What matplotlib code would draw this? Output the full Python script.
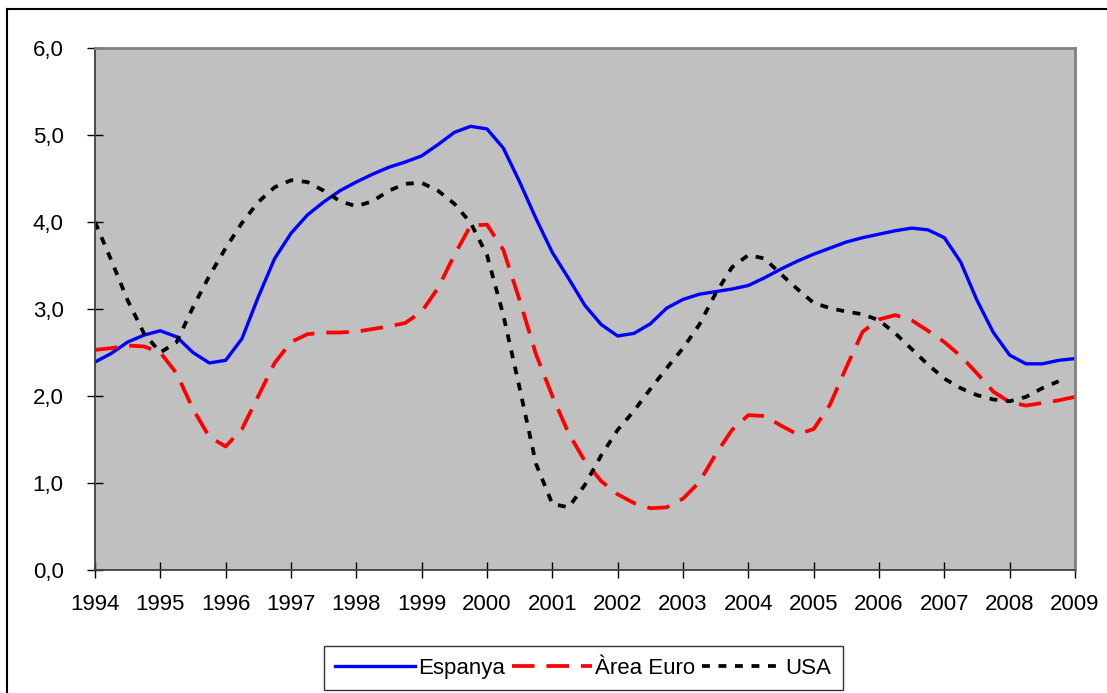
import numpy as np
import matplotlib.pyplot as plt
from matplotlib.lines import Line2D

plt.rcParams['font.family'] = ['Liberation Sans', 'DejaVu Sans']

# Trimestres 1994-2009
espanya = [2.39, 2.49, 2.62, 2.70, 2.75, 2.68, 2.50, 2.38, 2.41, 2.66, 3.14, 3.58,
           3.87, 4.08, 4.23, 4.36, 4.46, 4.55, 4.63, 4.69, 4.76, 4.89, 5.03, 5.10,
           5.07, 4.85, 4.46, 4.04, 3.65, 3.35, 3.04, 2.82, 2.69, 2.72, 2.83, 3.01,
           3.11, 3.17, 3.20, 3.23, 3.27, 3.36, 3.46, 3.55, 3.63, 3.70, 3.77, 3.82,
           3.86, 3.90, 3.93, 3.91, 3.82, 3.54, 3.10, 2.73, 2.47, 2.37, 2.37, 2.41,
           2.43]
area_euro = [2.53, 2.55, 2.58, 2.57, 2.50, 2.26, 1.85, 1.53, 1.42, 1.62, 2.00, 2.38,
             2.62, 2.71, 2.73, 2.73, 2.74, 2.77, 2.80, 2.84, 2.97, 3.24, 3.62, 3.96,
             3.97, 3.68, 3.10, 2.48, 2.00, 1.57, 1.25, 1.02, 0.87, 0.77, 0.71, 0.72,
             0.82, 1.01, 1.33, 1.61, 1.78, 1.77, 1.66, 1.56, 1.62, 1.90, 2.33, 2.74,
             2.88, 2.93, 2.87, 2.75, 2.62, 2.46, 2.26, 2.05, 1.93, 1.89, 1.92, 1.95,
             1.99]
usa = [4.00, 3.56, 3.10, 2.72, 2.50, 2.62, 3.02, 3.38, 3.70, 3.99, 4.23, 4.40,
       4.48, 4.46, 4.36, 4.24, 4.18, 4.24, 4.36, 4.44, 4.45, 4.36, 4.21, 3.99,
       3.62, 2.93, 2.09, 1.22, 0.76, 0.72, 0.98, 1.32, 1.61, 1.83, 2.08, 2.32,
       2.55, 2.82, 3.18, 3.48, 3.62, 3.58, 3.40, 3.23, 3.07, 3.01, 2.97, 2.94,
       2.87, 2.72, 2.54, 2.36, 2.20, 2.09, 2.01, 1.96, 1.94, 1.99, 2.09, 2.17]

anys = list(range(1994, 2010))
t = 1994 + 0.25 * np.arange(len(espanya))
t_usa = 1994 + 0.25 * np.arange(len(usa))

fig = plt.figure(figsize=(11.07, 6.93), dpi=100)
ax = fig.add_axes([0.0858, 0.1775, 0.8853, 0.7532])
ax.set_facecolor('#C0C0C0')

ax.plot(t, espanya, color='#0000FF', lw=2.4, label='Espanya')
ax.plot(t, area_euro, color='#FF0000', lw=2.7, dashes=(6.0, 3.2), label='Àrea Euro')
ax.plot(t_usa, usa, color='black', lw=2.7, dashes=(2.1, 2.3), label='USA')

ax.set_xlim(1994, 2009)
ax.set_ylim(0, 6)
ax.set_xticks(anys)
ax.set_yticks(np.arange(0, 7, 1))
ax.set_yticklabels([f'{v:.1f}'.replace('.', ',') for v in range(7)])
ax.tick_params(axis='both', direction='inout', length=11, width=1, labelsize=16,
               color='black')
ax.tick_params(axis='x', pad=12)
ax.tick_params(axis='y', pad=17)

for s in ['top', 'right']:
    ax.spines[s].set_color('#808080')
    ax.spines[s].set_linewidth(2)
for s in ['left', 'bottom']:
    ax.spines[s].set_color('#404040')
    ax.spines[s].set_linewidth(1.3)

# marc de la figura
fig.add_artist(Line2D([7/1107, 1], [1 - 9/693, 1 - 9/693], transform=fig.transFigure,
                      color='black', lw=1.5))
fig.add_artist(Line2D([7/1107, 7/1107], [0, 1 - 9/693], transform=fig.transFigure,
                      color='black', lw=1.5))

leg = fig.legend(loc='center', bbox_to_anchor=(0.527, 0.036), ncol=3, fontsize=16,
                 frameon=True, fancybox=False, edgecolor='black', handlelength=3.6,
                 handletextpad=0.15, columnspacing=0.3, borderpad=0.5,
                 borderaxespad=0)
leg.get_frame().set_linewidth(1.0)

plt.savefig('out.png', dpi=100)
